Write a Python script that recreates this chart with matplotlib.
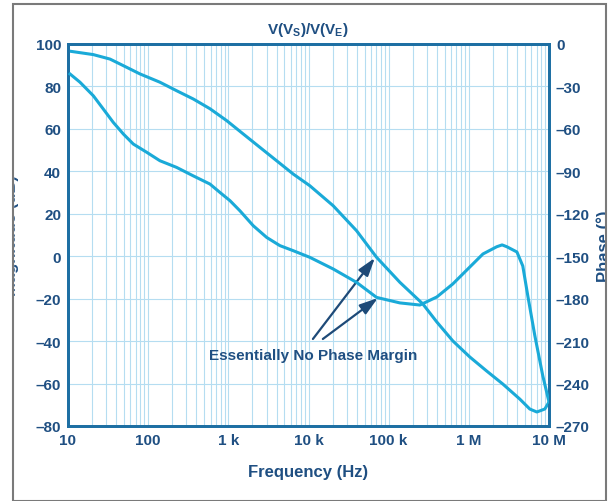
import numpy as np
import matplotlib
matplotlib.use('Agg')
import matplotlib.pyplot as plt
from matplotlib.patches import Rectangle
from matplotlib.ticker import FixedLocator, LogLocator, NullFormatter

plt.rcParams['font.family'] = 'Liberation Sans'
plt.rcParams['font.weight'] = 'bold'
plt.rcParams['mathtext.fontset'] = 'custom'
plt.rcParams['mathtext.rm'] = 'Liberation Sans:bold'
plt.rcParams['mathtext.it'] = 'Liberation Sans:bold'
plt.rcParams['mathtext.bf'] = 'Liberation Sans:bold'

# magnitude trace (dB)
mag_f = [10.6, 20.7, 33.4, 49, 79, 140, 226, 365, 590, 953, 1535, 2477, 4000,
         6457, 10400, 20300, 39800, 70600, 1.38e5, 2.67e5, 3.99e5, 6.31e5,
         1.03e6, 1.67e6, 2.65e6, 4.32e6, 5.76e6, 7.05e6, 8.87e6, 1e7]
mag_db = [96.6, 95.0, 92.9, 89.8, 85.9, 82.0, 78.0, 74.1, 69.5, 63.9, 57.6,
          51.3, 45.0, 38.7, 33.2, 23.8, 12.0, -0.5, -12.3, -22.5, -31.0, -39.9,
          -47.5, -54.1, -60.2, -67.3, -72.0, -73.4, -72.0, -68.7]

# phase trace (degrees)
ph_f = [10.6, 14.1, 20.7, 27.5, 36.7, 49, 65.2, 95.7, 140, 226, 365, 590, 785,
        1047, 1396, 2042, 3006, 4395, 6457, 10400, 20300, 39800, 70600,
        1.38e5, 2.45e5, 3.99e5, 6.31e5, 1.03e6, 1.5e6, 2.23e6, 2.6e6, 2.98e6,
        3.98e6, 4.71e6, 5.44e6, 6.65e6, 8.37e6, 1e7]
ph_deg = [-21.2, -27, -36.6, -45.9, -55.4, -63.6, -70.7, -76.5, -82.5, -87.2,
          -93.2, -99, -104.9, -110.7, -117.9, -128.4, -136.7, -142.5, -146.1,
          -150.8, -159, -168.5, -179.1, -183, -184.5, -178.8, -169.6, -157.6,
          -148.4, -143.3, -142.0, -143.3, -147, -156.9, -178, -206, -234.6, -253]

x_ticks = [10, 100, 1e3, 1e4, 1e5, 1e6, 1e7]
x_labels = ['10', '100', '1 k', '10 k', '100 k', '1 M', '10 M']
mag_ticks = list(range(-80, 101, 20))
ph_ticks = list(range(-270, 1, 30))

txt = '#1f4f82'
spine = '#1d6fa3'
line_c = '#1aaad8'
grid_c = '#b5ddf1'

fig = plt.figure(figsize=(6.13, 5.02), dpi=100)
ax = fig.add_axes([68 / 613, 1 - 427 / 502, 481 / 613, 382 / 502])

ax.set_xscale('log')
ax.set_xlim(10, 1e7)
ax.set_ylim(-80, 100)
ax.xaxis.set_major_locator(FixedLocator(x_ticks))
ax.set_xticklabels(x_labels)
ax.xaxis.set_minor_locator(LogLocator(base=10, subs=np.arange(2, 10), numticks=20))
ax.xaxis.set_minor_formatter(NullFormatter())
ax.set_yticks(mag_ticks)
ax.set_yticklabels([str(v).replace('-', '\u2013') for v in mag_ticks])
ax.grid(True, which='both', axis='x', color=grid_c, lw=0.8)
ax.grid(True, which='major', axis='y', color=grid_c, lw=0.8)
ax.set_axisbelow(True)
ax.tick_params(which='both', length=0, labelsize=11, labelcolor=txt, pad=5)

ax2 = ax.twinx()
ax2.set_ylim(-270, 0)
ax2.set_yticks(ph_ticks)
ax2.set_yticklabels([str(v).replace('-', '\u2013') for v in ph_ticks])
ax2.tick_params(length=0, labelsize=11, labelcolor=txt, pad=5)

for a in (ax, ax2):
    for s in a.spines.values():
        s.set_color(spine)
        s.set_linewidth(2)

ax.plot(mag_f, mag_db, color=line_c, lw=2.2, zorder=3, solid_joinstyle='round')
ax2.plot(ph_f, ph_deg, color=line_c, lw=2.2, zorder=3, solid_joinstyle='round')

ax.text(11350, -46.5, 'Essentially No Phase Margin', ha='center', va='center',
        fontsize=11, color=txt, fontweight='bold')
arrow = dict(arrowstyle='-|>,head_length=1.1,head_width=0.35', color='#1e4a78', lw=1.6,
             shrinkA=0, shrinkB=0)
ax.annotate('', xy=(67300, -0.8), xytext=(11350, -39), arrowprops=arrow)
ax.annotate('', xy=(73300, -19.7), xytext=(15100, -39), arrowprops=arrow)

fig.text(308 / 613, 1 - 30 / 502, r'V(V$_\mathrm{S}$)/V(V$_\mathrm{E}$)', ha='center',
         va='center', fontsize=11, color=txt)
fig.text(308 / 613, 1 - 472 / 502, 'Frequency (Hz)', ha='center', va='center',
         fontsize=12, color=txt)
fig.text(12 / 613, 1 - 236 / 502, 'Magnitude (dB)', rotation=90, ha='center',
         va='center', fontsize=12, color=txt)
fig.text(604 / 613, 1 - 246 / 502, 'Phase (\u00b0)', rotation=90, ha='center',
         va='center', fontsize=12, color=txt)

# white margins outside the grey frame clip the side labels
fig.patches.append(Rectangle((0, 0), 13 / 613, 1, transform=fig.transFigure,
                             color='white', zorder=10))
fig.patches.append(Rectangle((606 / 613, 0), 7 / 613, 1, transform=fig.transFigure,
                             color='white', zorder=10))
fig.patches.append(Rectangle((13 / 613, 0), 593 / 613, 1 - 5 / 502, transform=fig.transFigure,
                             fill=False, edgecolor='#7a7a7a', lw=1.5, zorder=11))

fig.savefig('out.png', dpi=100)
